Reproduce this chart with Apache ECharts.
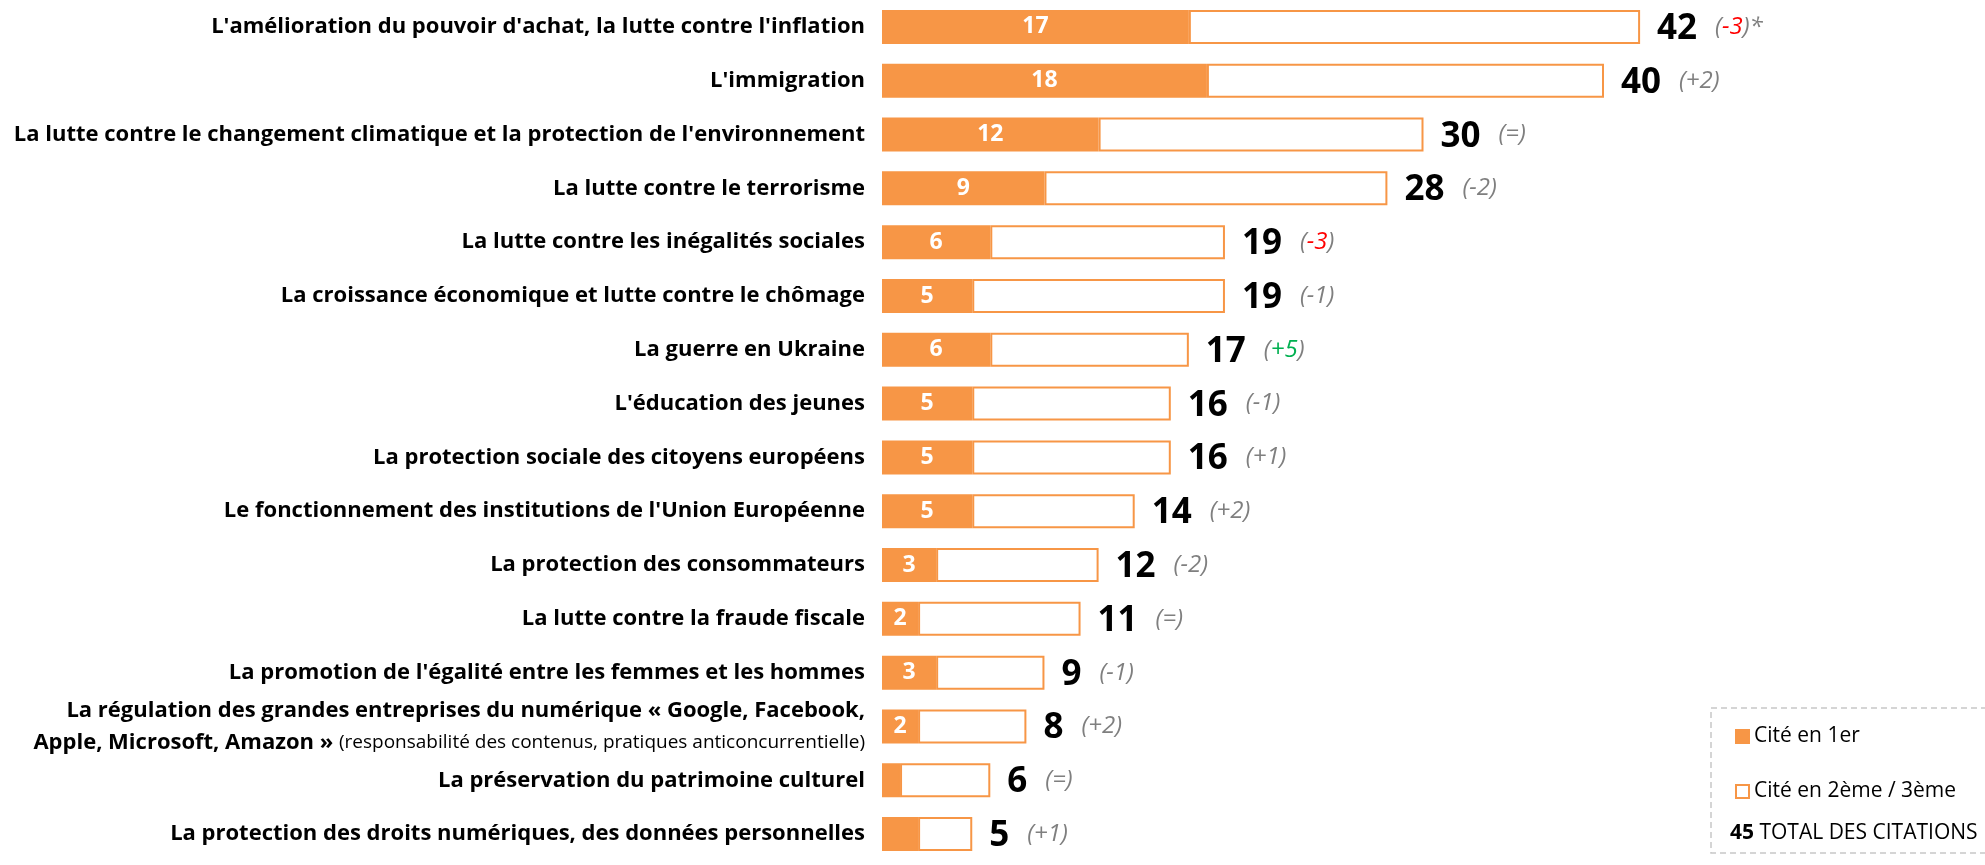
<!DOCTYPE html>
<html>
<head>
<meta charset="utf-8">
<script src="https://cdn.jsdelivr.net/npm/echarts@6/dist/echarts.min.js"></script>
<style>
  html, body { margin: 0; padding: 0; background: #fff; }
  #chart { width: 1985px; height: 865px; }
</style>
</head>
<body>
<div id="chart"></div>
<script>
// thèmes, dans l'ordre du graphique
const categories = [
  "L'amélioration du pouvoir d'achat, la lutte contre l'inflation",
  "L'immigration",
  "La lutte contre le changement climatique et la protection de l'environnement",
  "La lutte contre le terrorisme",
  "La lutte contre les inégalités sociales",
  "La croissance économique et lutte contre le chômage",
  "La guerre en Ukraine",
  "L'éducation des jeunes",
  "La protection sociale des citoyens européens",
  "Le fonctionnement des institutions de l'Union Européenne",
  "La protection des consommateurs",
  "La lutte contre la fraude fiscale",
  "La promotion de l'égalité entre les femmes et les hommes",
  "La régulation des grandes entreprises du numérique « Google, Facebook,\nApple, Microsoft, Amazon » (responsabilité des contenus, pratiques anticoncurrentielle)",
  "La préservation du patrimoine culturel",
  "La protection des droits numériques, des données personnelles"
]
// cité en 1er
const firstCited = [17, 18, 12, 9, 6, 5, 6, 5, 5, 5, 3, 2, 3, 2, 1, 2]
// étiquettes affichées sur la partie pleine (vide = pas d'étiquette)
const firstLabels = ['17', '18', '12', '9', '6', '5', '6', '5', '5', '5', '3', '2', '3', '2', '', '']
// total des citations
const totals = [42, 40, 30, 28, 19, 19, 17, 16, 16, 14, 12, 11, 9, 8, 6, 5]
// évolution
const changes = ['-3', '+2', '=', '-2', '-3', '-1', '+5', '-1', '+1', '+2', '-2', '=', '-1', '+2', '=', '+1']
// sens significatif : 'down' rouge, 'up' vert, '' gris
const signif = ['down', '', '', '', 'down', '', 'up', '', '', '', '', '', '', '', '', '']

const orange = '#F79646'
const font = 'Open Sans'

// cité en 2ème / 3ème = total - cité en 1er
const otherCited = totals.map((t, i) => t - firstCited[i])

let myChart = echarts.init(document.getElementById('chart'))
let option = {
  animation: false,
  textStyle: { fontFamily: font },
  grid: {
    left: 882,
    right: 20,
    top: -2,
    bottom: 4
  },
  legend: {
    orient: 'vertical',
    left: 1730,
    top: 721,
    itemWidth: 13,
    itemHeight: 13,
    itemGap: 34,
    icon: 'rect',
    textStyle: { fontFamily: font, fontSize: 21, color: '#000' },
    data: ['Cité en 1er', 'Cité en 2ème / 3ème']
  },
  xAxis: {
    type: 'value',
    min: 0,
    max: 60,
    show: false
  },
  yAxis: {
    type: 'category',
    inverse: true,
    data: categories,
    axisLine: { show: false },
    axisTick: { show: false },
    axisLabel: {
      margin: 17,
      formatter: function (value) {
        if (value.indexOf('\n') < 0) return '{b|' + value + '}'
        let lines = value.split('\n')
        let k = lines[1].indexOf('(')
        return '{b|' + lines[0] + '}\n{b|' + lines[1].slice(0, k) + '}{s|' + lines[1].slice(k) + '}'
      },
      rich: {
        b: { fontFamily: font, fontWeight: 'bold', fontSize: 22, color: '#000', lineHeight: 32 },
        s: { fontFamily: font, fontSize: 19, color: '#000', lineHeight: 32 }
      }
    }
  },
  graphic: [
    {
      type: 'rect',
      shape: { x: 1711, y: 708, width: 290, height: 145 },
      style: { fill: 'none', stroke: '#C8C8C8', lineWidth: 1.5, lineDash: [6, 4] }
    },
    {
      type: 'text',
      left: 1730,
      top: 823,
      style: {
        text: '{b|45} TOTAL DES CITATIONS',
        rich: {
          b: { fontFamily: font, fontWeight: 'bold', fontSize: 21, color: '#000' }
        },
        fontFamily: font,
        fontSize: 21,
        fill: '#000'
      }
    }
  ],
  series: [
    {
      name: 'Cité en 1er',
      type: 'bar',
      stack: 'total',
      barWidth: 34,
      data: firstCited,
      itemStyle: { color: orange, borderColor: orange, borderWidth: 2 },
      label: {
        show: true,
        position: 'inside',
        formatter: p => firstLabels[p.dataIndex],
        color: '#fff',
        fontFamily: font,
        fontWeight: 'bold',
        fontSize: 23
      }
    },
    {
      name: 'Cité en 2ème / 3ème',
      type: 'bar',
      stack: 'total',
      barWidth: 34,
      data: otherCited,
      itemStyle: { color: '#fff', borderColor: orange, borderWidth: 2 },
      label: {
        show: true,
        position: 'right',
        distance: 17,
        formatter: function (p) {
          let i = p.dataIndex
          let s = signif[i] === 'down' ? 'r' : (signif[i] === 'up' ? 'g' : 'c')
          let tail = i === 0 ? ')*' : ')'
          return '{v|' + totals[i] + '}{sp|}{c|(}{' + s + '|' + changes[i] + '}{c|' + tail + '}'
        },
        rich: {
          v: { fontFamily: font, fontWeight: 'bold', fontSize: 35, color: '#000', padding: [4, 0, 0, 0] },
          sp: { width: 18 },
          c: { fontFamily: font, fontStyle: 'italic', fontSize: 24, color: '#7F7F7F' },
          r: { fontFamily: font, fontStyle: 'italic', fontSize: 24, color: '#FF0000' },
          g: { fontFamily: font, fontStyle: 'italic', fontSize: 24, color: '#00B050' }
        }
      }
    }
  ]
}
myChart.setOption(option)
window.addEventListener('resize', function () {
  myChart.resize()
})
</script>
</body>
</html>
